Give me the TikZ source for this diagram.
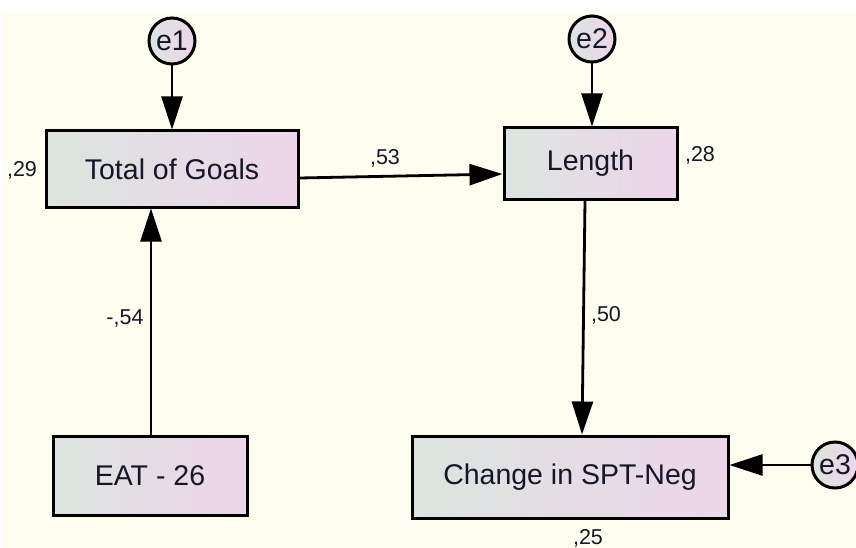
\documentclass[tikz,border=0pt]{standalone}
\usepackage{fontspec}
\setmainfont{Liberation Sans}
\usetikzlibrary{arrows.meta}
\definecolor{canvas}{RGB}{253,254,240}
\definecolor{fillL}{RGB}{220,229,223}
\definecolor{fillR}{RGB}{237,213,234}
\definecolor{ink}{RGB}{22,22,40}
\tikzset{
  var/.style={draw=black, line width=3pt, left color=fillL, right color=fillR,
    text=ink, font=\fontsize{28.5}{32}\selectfont, inner sep=0pt},
  obs/.style={var, rectangle},
  err/.style={var, circle, minimum size=46pt},
  path/.style={line width=2.8pt, -{Triangle[length=33pt,width=21pt]}},
  coef/.style={text=ink, font=\fontsize{21.5}{24}\selectfont, inner sep=0pt}
}
\begin{document}
\begin{tikzpicture}[x=1pt,y=-1pt]
  \useasboundingbox (0,0) rectangle (856,548);
  \fill[white] (0,0) rectangle (856,548);
  \fill[canvas] (3,14) rectangle (856,548);

  % observed variables
  \node[obs, minimum width=252pt, minimum height=76pt] (total) at (172,169) {Total of Goals};
  \node[obs, minimum width=173pt, minimum height=71pt] (length) at (590.5,163.5) {Length};
  \node[obs, minimum width=194pt, minimum height=79pt] (eat) at (150,475.5) {EAT - 26};
  \node[obs, minimum width=316pt, minimum height=82pt] (change) at (570,477) {Change in SPT-Neg};

  % error terms
  \node[err] (e1) at (172,41) {e1};
  \node[err] (e2) at (592,39) {e2};
  \node[err] (e3) at (835,465) {e3};

  % paths
  \draw[path] (e1) -- (total);
  \draw[path] (e2) -- (e2 |- length.north);
  \draw[path] (e3) -- (e3 -| change.east);
  \draw[path] ([xshift=1pt]eat.north) -- ([xshift=-21pt]total.south);
  \draw[path] ([yshift=-9pt]total.east) -- ([yshift=-10.5pt]length.west);
  \draw[path] ([xshift=-5.5pt]length.south) -- ([xshift=12pt]change.north);

  % coefficients and squared multiple correlations
  \node[coef] (c53) at (385,158) {,53};
  \node[coef] (c54) at (125,318) {-,54};
  \node[coef] (c50) at (606,315) {,50};
  \node[coef] (r29) at (22,170) {,29};
  \node[coef] (r28) at (700,155) {,28};
  \node[coef] (r25) at (588,538) {,25};
\end{tikzpicture}
\end{document}
